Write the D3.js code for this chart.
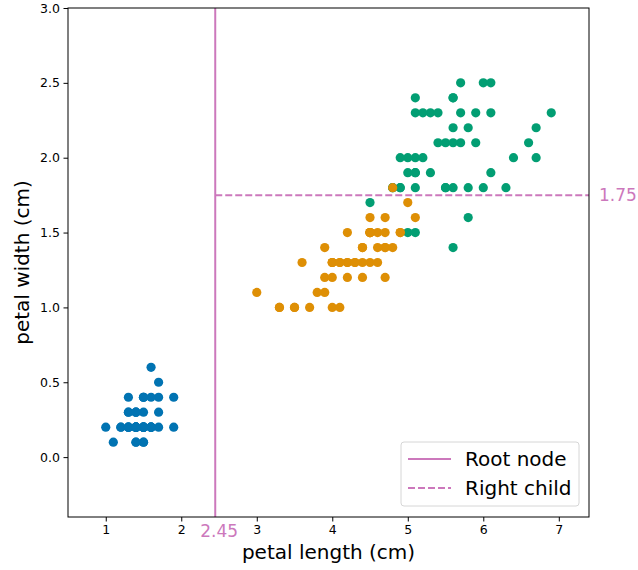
<!DOCTYPE html>
<html>
<head>
<meta charset="utf-8">
<script src="https://cdn.jsdelivr.net/npm/d3@7"></script>
<style>
  body { margin: 0; background: #fff; }
  svg { display: block; font-family: "DejaVu Sans", sans-serif; }
</style>
</head>
<body>
<div id="chart"></div>
<script>
// Iris petal measurements, one array per class
const setosaLength = [1.4,1.4,1.3,1.5,1.4,1.7,1.4,1.5,1.4,1.5,1.5,1.6,1.4,1.1,1.2,1.5,1.3,1.4,1.7,1.5,1.7,1.5,1.0,1.7,1.9,1.6,1.6,1.5,1.4,1.6,1.6,1.5,1.5,1.4,1.5,1.2,1.3,1.4,1.3,1.5,1.3,1.3,1.3,1.6,1.9,1.4,1.6,1.4,1.5,1.4];
const setosaWidth  = [0.2,0.2,0.2,0.2,0.2,0.4,0.3,0.2,0.2,0.1,0.2,0.2,0.1,0.1,0.2,0.4,0.4,0.3,0.3,0.3,0.2,0.4,0.2,0.5,0.2,0.2,0.4,0.2,0.2,0.2,0.2,0.4,0.1,0.2,0.2,0.2,0.2,0.1,0.2,0.2,0.3,0.3,0.2,0.6,0.4,0.3,0.2,0.2,0.2,0.2];
const versicolorLength = [4.7,4.5,4.9,4.0,4.6,4.5,4.7,3.3,4.6,3.9,3.5,4.2,4.0,4.7,3.6,4.4,4.5,4.1,4.5,3.9,4.8,4.0,4.9,4.7,4.3,4.4,4.8,5.0,4.5,3.5,3.8,3.7,3.9,5.1,4.5,4.5,4.7,4.4,4.1,4.0,4.4,4.6,4.0,3.3,4.2,4.2,4.2,4.3,3.0,4.1];
const versicolorWidth  = [1.4,1.5,1.5,1.3,1.5,1.3,1.6,1.0,1.3,1.4,1.0,1.5,1.0,1.4,1.3,1.4,1.5,1.0,1.5,1.1,1.8,1.3,1.5,1.2,1.3,1.4,1.4,1.7,1.5,1.0,1.1,1.0,1.2,1.6,1.5,1.6,1.5,1.3,1.3,1.3,1.2,1.4,1.2,1.0,1.3,1.2,1.3,1.3,1.1,1.3];
const virginicaLength = [6.0,5.1,5.9,5.6,5.8,6.6,4.5,6.3,5.8,6.1,5.1,5.3,5.5,5.0,5.1,5.3,5.5,6.7,6.9,5.0,5.7,4.9,6.7,4.9,5.7,6.0,4.8,4.9,5.6,5.8,6.1,6.4,5.6,5.1,5.6,6.1,5.6,5.5,4.8,5.4,5.6,5.1,5.1,5.9,5.7,5.2,5.0,5.2,5.4,5.1];
const virginicaWidth  = [2.5,1.9,2.1,1.8,2.2,2.1,1.7,1.8,1.8,2.5,2.0,1.9,2.1,2.0,2.4,2.3,1.8,2.2,2.3,1.5,2.3,2.0,2.0,1.8,2.1,1.8,1.8,1.8,2.1,1.6,1.9,2.0,2.2,1.5,1.4,2.3,2.4,1.8,1.8,2.1,2.4,2.3,1.9,2.3,2.5,2.3,1.9,2.0,2.3,1.8];

const xTicks = [1, 2, 3, 4, 5, 6, 7];
const yTicks = [0.0, 0.5, 1.0, 1.5, 2.0, 2.5, 3.0];
const xDomain = [0.5, 7.4];
const yDomain = [-0.4, 3.0];
const rootSplit = 2.45;   // petal length threshold
const rightSplit = 1.75;  // petal width threshold
const legendLabels = ['Root node', 'Right child'];

const W = 638, H = 570;
const margin = { left: 68, right: 49, top: 8, bottom: 53 };
const pink = '#cc78bc';

const svg = d3.select('#chart').append('svg')
  .attr('width', W).attr('height', H);

const x = d3.scaleLinear().domain(xDomain).range([margin.left, W - margin.right]);
const y = d3.scaleLinear().domain(yDomain).range([H - margin.bottom, margin.top]);

function zipPoints(xs, ys) { return xs.map((v, i) => [v, ys[i]]); }

// draw order: versicolor ends up on top where points overlap
const groups = [
  { pts: zipPoints(setosaLength, setosaWidth), color: '#0173b2' },
  { pts: zipPoints(virginicaLength, virginicaWidth), color: '#029e73' },
  { pts: zipPoints(versicolorLength, versicolorWidth), color: '#de8f05' }
];

const plot = svg.append('g');
groups.forEach(g => {
  plot.append('g').selectAll('circle')
    .data(g.pts)
    .join('circle')
    .attr('cx', d => x(d[0]))
    .attr('cy', d => y(d[1]))
    .attr('r', 4.6)
    .attr('fill', g.color);
});

// split lines
svg.append('line')
  .attr('x1', x(rootSplit)).attr('x2', x(rootSplit))
  .attr('y1', y(yDomain[0])).attr('y2', y(yDomain[1]))
  .attr('stroke', pink).attr('stroke-width', 2);
svg.append('line')
  .attr('x1', x(rootSplit)).attr('x2', x(xDomain[1]))
  .attr('y1', y(rightSplit)).attr('y2', y(rightSplit))
  .attr('stroke', pink).attr('stroke-width', 2)
  .attr('stroke-dasharray', '7,3');

// axes
const xAxis = svg.append('g')
  .attr('transform', `translate(0,${H - margin.bottom})`)
  .call(d3.axisBottom(x).tickValues(xTicks).tickFormat(d3.format('d')).tickSizeOuter(0).tickSize(4.5));
const yAxis = svg.append('g')
  .attr('transform', `translate(${margin.left},0)`)
  .call(d3.axisLeft(y).tickValues(yTicks).tickFormat(d3.format('.1f')).tickSizeOuter(0).tickSize(4.5));
[xAxis, yAxis].forEach(a => {
  a.select('.domain').remove();
  a.selectAll('.tick text').attr('font-size', 12.5).attr('fill', '#000')
    .attr('font-family', 'DejaVu Sans');
  a.selectAll('.tick line').attr('stroke', '#000').attr('stroke-width', 1);
});
xAxis.selectAll('.tick text').attr('dy', '0.71em').attr('y', 8);
yAxis.selectAll('.tick text').attr('x', -8);

// frame
svg.append('rect')
  .attr('x', margin.left).attr('y', margin.top)
  .attr('width', W - margin.left - margin.right)
  .attr('height', H - margin.top - margin.bottom)
  .attr('fill', 'none').attr('stroke', '#000').attr('stroke-width', 1);

// threshold labels
svg.append('text')
  .attr('x', x(rootSplit) + 4).attr('y', 537)
  .attr('text-anchor', 'middle').attr('font-size', 17)
  .attr('fill', pink).text(rootSplit.toFixed(2));
svg.append('text')
  .attr('x', W - margin.right + 10).attr('y', y(rightSplit) + 6)
  .attr('font-size', 17).attr('fill', pink).text(rightSplit.toFixed(2));

// axis titles
svg.append('text')
  .attr('x', (margin.left + W - margin.right) / 2).attr('y', 559)
  .attr('text-anchor', 'middle').attr('font-size', 20)
  .text('petal length (cm)');
svg.append('text')
  .attr('transform', `translate(29,${(margin.top + H - margin.bottom) / 2}) rotate(-90)`)
  .attr('text-anchor', 'middle').attr('font-size', 20)
  .text('petal width (cm)');

// legend
const lg = svg.append('g').attr('transform', 'translate(401,442)');
lg.append('rect')
  .attr('width', 178).attr('height', 64).attr('rx', 3)
  .attr('fill', '#fff').attr('fill-opacity', 0.85)
  .attr('stroke', '#d6d6d6');
legendLabels.forEach((lab, i) => {
  const yy = 17 + i * 29;
  lg.append('line')
    .attr('x1', 7).attr('x2', 50).attr('y1', yy).attr('y2', yy)
    .attr('stroke', pink).attr('stroke-width', 2)
    .attr('stroke-dasharray', i === 1 ? '7,3' : null);
  lg.append('text')
    .attr('x', 64).attr('y', yy + 7)
    .attr('font-size', 20).text(lab);
});
</script>
</body>
</html>
